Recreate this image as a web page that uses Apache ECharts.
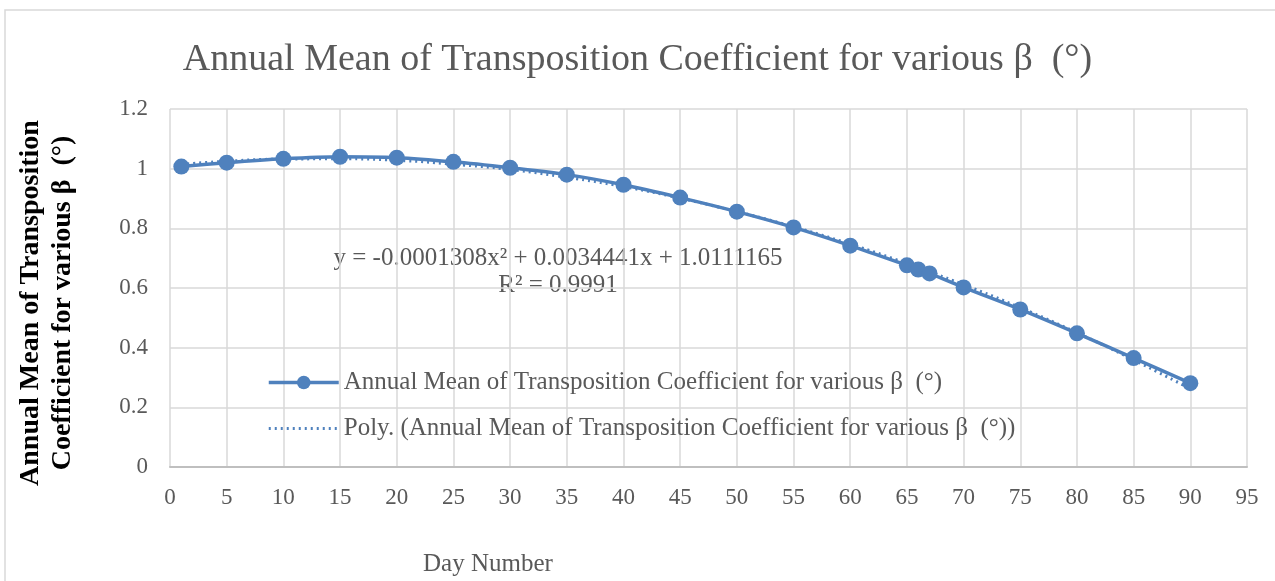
<!DOCTYPE html>
<html>
<head>
<meta charset="utf-8">
<script src="https://cdn.jsdelivr.net/npm/echarts@6/dist/echarts.min.js"></script>
<style>
  html, body { margin: 0; padding: 0; background: #fff; }
  #chart { width: 1275px; height: 581px; }
</style>
</head>
<body>
<div id="chart"></div>
<script>
// beta angle (x) and annual mean transposition coefficient (y)
const betaDeg = [1, 5, 10, 15, 20, 25, 30, 35, 40, 45, 50, 55, 60, 65, 66, 67, 70, 75, 80, 85, 90];
const meanCoef = [1.007, 1.020, 1.033, 1.040, 1.037, 1.023, 1.003, 0.980, 0.946, 0.903, 0.856, 0.803,
  0.742, 0.676, 0.662, 0.649, 0.602, 0.528, 0.448, 0.365, 0.281];

// poly trendline
const trendX = [1, 5, 10, 15, 20, 25, 30, 35, 40, 45, 50, 55, 60, 65, 70, 75, 80, 85, 90];
const trendY = [1.014, 1.025, 1.032, 1.033, 1.028, 1.015, 0.997, 0.971, 0.940, 0.901, 0.856, 0.805,
  0.747, 0.682, 0.611, 0.534, 0.450, 0.359, 0.262];

const xTicks = [0, 95, 5];   // min, max, step
const yTicks = [0, 1.2, 0.2];

const seriesName = "Annual Mean of Transposition Coefficient for various β  (°)";
const trendName = "Poly. (Annual Mean of Transposition Coefficient for various β  (°))";
const equation = "y = -0.0001308x² + 0.0034441x + 1.0111165";
const rSquared = "R² = 0.9991";

const blue = "#4f81bd";
const grey = "#595959";
const serif = "'Liberation Serif', 'DejaVu Serif', serif";

const myChart = echarts.init(document.getElementById("chart"));

const option = {
  backgroundColor: "#ffffff",
  animation: false,
  textStyle: { fontFamily: serif },
  title: {
    text: "Annual Mean of Transposition Coefficient for various β  (°)",
    left: "center",
    top: 36,
    textStyle: { color: grey, fontSize: 38, fontWeight: "normal", fontFamily: serif },
  },
  grid: { left: 170, right: 28, top: 109, bottom: 114 },
  legend: {
    orient: "vertical",
    left: 262,
    top: 365,
    itemGap: 21,
    itemWidth: 70,
    itemHeight: 17,
    textStyle: { color: grey, fontSize: 25, fontFamily: serif },
    data: [
      { name: seriesName, lineStyle: { width: 3.5 } },
      { name: trendName, itemStyle: { opacity: 0 }, lineStyle: { width: 3 } },
    ],
  },
  xAxis: {
    type: "value",
    min: xTicks[0],
    max: xTicks[1],
    interval: xTicks[2],
    axisLine: { show: true, lineStyle: { color: "#bfbfbf", width: 2 } },
    axisTick: { show: false },
    axisLabel: { color: grey, fontSize: 23, margin: 19 },
    splitLine: { show: true, lineStyle: { color: "#d9d9d9", width: 1.5 } },
  },
  yAxis: {
    type: "value",
    min: yTicks[0],
    max: yTicks[1],
    interval: yTicks[2],
    name: "Annual Mean of Transposition\nCoefficient for various β  (°)",
    nameLocation: "middle",
    nameGap: 91,
    nameTextStyle: {
      color: "#000", fontSize: 28, fontWeight: "bold", lineHeight: 32, fontFamily: serif,
      padding: [0, 30, 0, 0],
    },
    axisLine: { show: false },
    axisTick: { show: false },
    axisLabel: { color: grey, fontSize: 23, margin: 22 },
    splitLine: { show: true, lineStyle: { color: "#d9d9d9", width: 1.5 } },
  },
  graphic: [
    {
      type: "rect",
      silent: true,
      shape: { x: 5, y: 10, width: 1300, height: 620 },
      style: { fill: "none", stroke: "#d9d9d9", lineWidth: 1.5 },
    },
    {
      type: "text",
      left: 423,
      top: 552,
      style: { text: "Day Number", fill: grey, font: "25px " + serif },
    },
    {
      type: "text",
      x: 558,
      y: 258,
      style: { text: equation, fill: grey, font: "25px " + serif, align: "center", verticalAlign: "middle" },
    },
    {
      type: "text",
      x: 558,
      y: 285,
      style: { text: rSquared, fill: grey, font: "25px " + serif, align: "center", verticalAlign: "middle" },
    },
  ],
  series: [
    {
      name: seriesName,
      type: "line",
      data: betaDeg.map((x, i) => [x, meanCoef[i]]),
      smooth: 0.3,
      symbol: "circle",
      symbolSize: 16,
      z: 3,
      lineStyle: { color: blue, width: 3.5 },
      itemStyle: { color: blue },
    },
    {
      name: trendName,
      type: "line",
      data: trendX.map((x, i) => [x, trendY[i]]),
      smooth: true,
      symbol: "none",
      z: 2,
      lineStyle: { color: blue, width: 3, type: [2, 4] },
      itemStyle: { color: blue },
    },
  ],
};

option && myChart.setOption(option);
</script>
</body>
</html>
